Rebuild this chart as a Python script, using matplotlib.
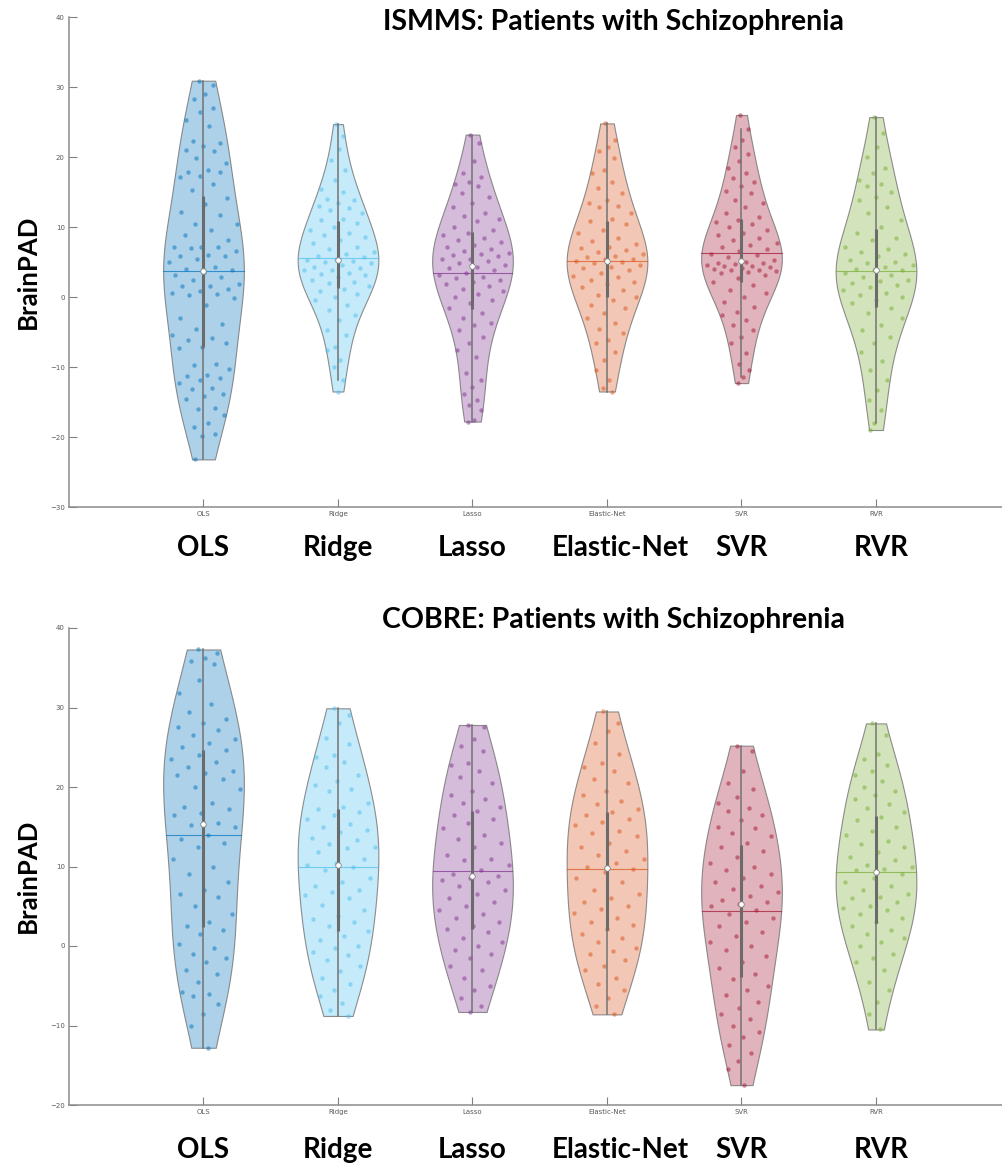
import numpy as np
import matplotlib
matplotlib.use("Agg")
import matplotlib.pyplot as plt
from matplotlib import cbook, mlab
from matplotlib.colors import to_rgba

models = ['OLS', 'Ridge', 'Lasso', 'Elastic-Net', 'SVR', 'RVR']
colors = ['#0072BD', '#4DBEEE', '#7E2F8E', '#D95319', '#A2142F', '#77AC30']

# ISMMS: BrainPAD per model
ismms_ols = [30.9, 30.3, 29.0, 28.3, 27.0, 26.5, 25.3, 24.4, 22.3, 22.0, 21.6, 21.0, 20.8, 19.9,
             19.1, 18.2, 17.9, 17.8, 17.3, 17.2, 16.1, 15.3, 14.2, 13.3, 12.1, 11.7, 10.4, 10.4,
             9.6, 8.9, 8.2, 7.2, 7.2, 7.1, 7.0, 6.6, 6.0, 5.9, 5.8, 5.5, 5.0, 4.3, 4.0, 3.8, 3.6,
             3.1, 2.9, 2.5, 1.9, 1.6, 1.6, 1.2, 0.8, 0.6, 0.4, 0.3, -0.1, -1.1, -3.0, -3.8, -4.5,
             -5.4, -5.9, -6.2, -6.6, -7.1, -7.3, -9.5, -9.7, -10.3, -11.1, -11.3, -11.6, -11.9,
             -12.3, -13.0, -13.2, -13.8, -14.2, -14.5, -15.9, -16.0, -16.9, -18.0, -18.6, -19.5,
             -19.9, -23.2]
ismms_ridge = [24.7, 23.0, 21.2, 19.6, 18.2, 16.7, 15.5, 15.0, 14.0, 13.9, 13.4, 13.0, 12.7, 12.4,
               12.0, 11.2, 11.0, 10.6, 10.0, 9.6, 9.1, 8.9, 8.6, 8.1, 7.7, 7.1, 6.8, 6.5, 6.2, 5.9,
               5.7, 5.5, 5.3, 5.2, 5.0, 4.8, 4.6, 4.3, 4.1, 3.9, 3.8, 3.5, 3.3, 3.1, 2.9, 2.5, 2.2,
               2.0, 1.6, 1.2, 0.9, 0.5, 0.0, -0.4, -1.1, -1.9, -2.6, -3.3, -4.7, -5.4, -7.1, -7.6,
               -9.0, -10.0, -11.9, -13.5]
ismms_lasso = [23.2, 22.0, 19.5, 17.7, 17.2, 16.5, 16.1, 15.8, 14.9, 14.3, 13.4, 12.9, 12.0, 11.6,
               11.2, 10.8, 10.0, 9.6, 9.1, 8.9, 8.5, 8.1, 7.8, 7.4, 7.1, 6.8, 6.6, 6.3, 6.2, 6.0,
               5.8, 5.5, 5.4, 5.2, 4.9, 4.6, 4.3, 4.1, 3.9, 3.5, 3.1, 2.9, 2.7, 2.4, 2.2, 1.9, 1.6,
               1.2, 0.9, 0.5, 0.0, -0.4, -0.9, -1.6, -2.3, -3.0, -3.7, -4.0, -4.7, -5.7, -6.6,
               -7.6, -8.5, -10.9, -11.9, -12.8, -13.8, -14.7, -15.4, -16.1, -17.6, -17.8]
ismms_enet = [24.8, 22.5, 21.5, 20.8, 19.8, 18.1, 17.7, 16.5, 15.6, 14.8, 13.9, 13.4, 13.0, 12.8,
              12.0, 11.2, 10.8, 10.4, 9.6, 9.1, 8.5, 8.0, 7.6, 7.2, 7.0, 6.7, 6.4, 6.2, 5.9, 5.7,
              5.5, 5.4, 5.2, 5.0, 4.8, 4.6, 4.3, 4.1, 3.8, 3.4, 3.0, 2.9, 2.5, 2.2, 1.8, 1.4, 1.0,
              0.3, 0.0, -0.4, -1.1, -1.6, -2.3, -3.0, -3.7, -4.5, -5.2, -6.1, -6.6, -7.8, -9.0,
              -10.4, -11.9, -13.0, -13.5]
ismms_svr = [26.0, 24.0, 22.5, 21.5, 20.5, 19.5, 18.5, 17.7, 17.0, 16.5, 15.8, 15.2, 14.8, 13.9,
             13.4, 12.9, 12.0, 11.5, 11.0, 10.7, 10.4, 10.0, 9.6, 9.2, 8.9, 8.5, 8.1, 7.7, 7.5,
             7.2, 6.9, 6.6, 6.2, 6.0, 5.7, 5.3, 5.0, 4.9, 4.8, 4.7, 4.6, 4.5, 4.4, 4.3, 4.2, 4.0,
             3.9, 3.8, 3.7, 3.6, 3.4, 3.1, 2.7, 2.2, 1.7, 1.0, 0.6, 0.0, -0.7, -1.4, -2.1, -2.6,
             -3.3, -4.0, -4.7, -5.7, -6.6, -8.0, -9.5, -10.4, -11.4, -12.3]
ismms_rvr = [25.7, 23.5, 21.5, 20.0, 18.5, 17.7, 16.7, 16.2, 15.8, 15.0, 14.3, 13.9, 12.9, 12.0,
             11.0, 10.0, 9.1, 8.5, 8.1, 7.2, 6.8, 6.5, 6.2, 5.8, 5.3, 5.0, 4.8, 4.6, 4.3, 4.0,
             3.8, 3.8, 3.4, 3.1, 2.9, 2.5, 2.3, 2.0, 1.7, 1.4, 1.0, 0.6, 0.3, 0.0, -0.4, -0.9,
             -1.6, -2.3, -3.0, -4.0, -4.7, -5.7, -6.6, -7.8, -9.2, -10.4, -11.9, -13.3, -14.7,
             -16.1, -18.0, -19.0]

# COBRE: BrainPAD per model
cobre_ols = [37.3, 36.8, 36.2, 35.8, 35.5, 33.5, 31.8, 30.5, 29.4, 28.5, 28.0, 27.5, 27.2, 26.5,
             26.0, 25.5, 25.0, 24.6, 24.0, 23.5, 23.2, 22.5, 22.0, 21.8, 21.5, 21.0, 20.0, 19.8,
             18.0, 17.5, 17.2, 16.7, 16.5, 15.5, 15.2, 15.0, 14.0, 13.5, 13.0, 12.4, 11.0, 10.0,
             9.0, 8.0, 7.0, 6.5, 6.2, 5.0, 4.0, 3.0, 2.5, 2.0, 1.5, 0.3, -0.3, -1.0, -1.5, -2.0,
             -3.0, -3.5, -4.5, -5.8, -6.0, -6.3, -7.3, -8.5, -10.0, -12.8]
cobre_ridge = [29.9, 29.0, 28.0, 26.2, 25.4, 24.0, 23.8, 23.1, 22.5, 21.5, 20.8, 20.2, 19.8, 19.5,
               18.0, 17.5, 17.2, 16.8, 16.5, 16.0, 15.3, 15.0, 14.6, 14.3, 13.6, 13.3, 12.8, 12.5,
               12.3, 11.8, 11.0, 10.5, 10.2, 9.9, 9.6, 8.6, 8.0, 7.6, 7.1, 6.8, 6.4, 6.0, 5.2, 4.5,
               3.8, 3.4, 3.0, 2.5, 1.9, 1.3, 0.8, 0.0, -0.3, -0.8, -1.1, -1.8, -2.5, -3.2, -4.0,
               -4.8, -5.5, -6.3, -7.2, -8.0, -8.8]
cobre_lasso = [27.8, 27.5, 26.0, 25.2, 24.5, 23.0, 22.8, 22.0, 21.2, 20.5, 19.5, 19.0, 18.5, 18.0,
               17.5, 17.0, 16.5, 16.0, 15.5, 14.8, 14.0, 13.5, 13.0, 12.5, 11.5, 11.0, 10.8, 10.2,
               9.5, 9.0, 8.8, 8.5, 8.3, 8.0, 7.5, 7.0, 6.5, 6.0, 5.5, 5.0, 4.5, 4.0, 3.5, 3.0, 2.5,
               2.2, 1.8, 1.0, 0.5, 0.0, -0.5, -1.0, -1.5, -2.5, -3.0, -4.0, -5.0, -5.5, -6.5,
               -7.5, -8.3]
cobre_enet = [29.5, 28.0, 27.0, 25.5, 24.2, 23.0, 22.5, 22.0, 21.0, 20.5, 19.5, 19.0, 18.2, 17.8,
              17.2, 16.8, 16.5, 16.0, 15.6, 15.2, 14.5, 14.2, 13.8, 13.0, 12.5, 12.0, 11.5, 11.0,
              10.5, 10.0, 9.7, 9.3, 8.5, 8.0, 7.0, 6.5, 6.0, 5.5, 5.0, 4.6, 4.2, 3.5, 3.0, 2.6,
              2.2, 1.5, 1.0, 0.5, -0.2, -0.6, -1.0, -1.8, -2.5, -3.0, -4.0, -4.8, -5.5, -6.5,
              -7.5, -8.6]
cobre_svr = [25.2, 24.5, 22.0, 20.5, 19.8, 18.8, 18.0, 17.3, 17.0, 16.5, 15.8, 15.0, 14.8, 14.2,
             13.8, 13.0, 12.5, 12.0, 11.2, 10.5, 10.0, 9.5, 9.0, 8.5, 8.0, 7.5, 7.2, 6.8, 6.3,
             5.8, 5.5, 5.3, 5.0, 4.5, 4.0, 3.5, 3.0, 2.5, 1.8, 1.2, 0.5, 0.0, -0.5, -1.2, -2.0,
             -2.8, -3.5, -4.2, -5.0, -5.5, -6.2, -7.0, -7.8, -8.5, -9.2, -10.0, -10.8, -11.5,
             -12.5, -13.5, -14.5, -15.5, -17.5]
cobre_rvr = [28.0, 26.5, 24.2, 23.5, 22.8, 22.0, 21.5, 20.8, 20.0, 19.5, 19.0, 18.5, 17.8, 17.3,
             16.8, 16.2, 15.8, 15.0, 14.5, 14.0, 13.2, 12.8, 12.5, 11.8, 11.2, 10.8, 10.2, 9.9,
             9.7, 9.5, 9.0, 8.5, 8.0, 7.5, 7.0, 6.5, 6.2, 6.0, 5.5, 5.0, 4.8, 4.5, 4.0, 3.5, 3.0,
             2.5, 2.0, 1.5, 1.0, 0.5, 0.0, -1.0, -1.5, -2.0, -3.0, -4.5, -5.5, -7.0, -8.5, -10.5]

ismms = [ismms_ols, ismms_ridge, ismms_lasso, ismms_enet, ismms_svr, ismms_rvr]
cobre = [cobre_ols, cobre_ridge, cobre_lasso, cobre_enet, cobre_svr, cobre_rvr]

WIDTH = 0.6
LABEL_FONT = ['Lato', 'DejaVu Sans']
LABEL_SHIFT = [0, 0, 0, 0.1, 0, 0.04]   # small nudges of the big category labels


def kde(X, coords):
    k = mlab.GaussianKDE(X, lambda g: g.scotts_factor() * 1.25)
    return k.evaluate(coords)


def draw_panel(ax, groups, ylim, title, title_y, label_y):
    pos = np.arange(1, len(groups) + 1)
    stats = cbook.violin_stats(groups, kde, points=200)
    parts = ax.violin(stats, positions=pos, widths=WIDTH, showextrema=False)
    for body, c in zip(parts['bodies'], colors):
        body.set_alpha(None)
        body.set_facecolor(to_rgba(c, 0.32))
        body.set_edgecolor((0.45, 0.45, 0.45, 0.8))
        body.set_linewidth(0.8)

    for p, d, st, c in zip(pos, groups, stats, colors):
        d = np.asarray(d, dtype=float)
        vmax = st['vals'].max()
        half = 0.5 * WIDTH * np.interp(d, st['coords'], st['vals']) / vmax
        u = (np.arange(len(d)) * 0.6180339887 + 0.31) % 1.0
        ax.scatter(p + (2 * u - 1) * half * 0.92, d, s=10, color=c, alpha=0.5,
                   linewidths=0, zorder=3)
        m = d.mean()
        hw = 0.5 * WIDTH * np.interp(m, st['coords'], st['vals']) / vmax
        ax.plot([p - hw, p + hw], [m, m], color=c, lw=0.8, alpha=0.7, zorder=4)
        q1, med, q3 = np.percentile(d, [25, 50, 75])
        iqr = q3 - q1
        hi = d[d <= q3 + 1.5 * iqr].max()
        lo = d[d >= q1 - 1.5 * iqr].min()
        ax.plot([p, p], [lo, hi], color='0.45', lw=1.1, zorder=5)
        ax.plot([p, p], [q1, q3], color='0.42', lw=2.2, solid_capstyle='butt', zorder=6)
        ax.plot(p, med, 'o', ms=4, mfc='white', mec='0.5', mew=0.6, zorder=7)

    ax.set_xlim(0, 7)
    ax.set_ylim(*ylim)
    ax.set_yticks(np.arange(ylim[0], ylim[1] + 1, 10))
    ax.set_xticks(pos)
    ax.set_xticklabels(models, fontsize=3, color='0.6')
    ax.tick_params(direction='in', length=6, width=0.8, color='0.5',
                   labelsize=5, labelcolor='0.35', pad=3)
    for s in ['top', 'right']:
        ax.spines[s].set_visible(False)
    for s in ['left', 'bottom']:
        ax.spines[s].set_color('0.55')
        ax.spines[s].set_linewidth(1.1)

    ax.set_ylabel('BrainPAD', fontsize=18.5, fontweight='bold', family=LABEL_FONT)
    ax.yaxis.set_label_coords(-0.031, 0.48)
    for p, name, dx in zip(pos, models, LABEL_SHIFT):
        ax.text(p + dx, label_y, name, transform=ax.get_xaxis_transform(), ha='center',
                va='center', fontsize=20, fontweight='bold', family=LABEL_FONT)
    ax.text(4.05, title_y, title, transform=ax.get_xaxis_transform(), ha='center',
            va='center', fontsize=20.5, fontweight='bold', family=LABEL_FONT)


fig = plt.figure(figsize=(10.03, 11.72), dpi=100)
W, H = 1003.0, 1172.0
ax_top = fig.add_axes([69 / W, 1 - 507 / H, 941.5 / W, 490 / H])
ax_bot = fig.add_axes([69 / W, 1 - 1105 / H, 941.5 / W, 477 / H])

draw_panel(ax_top, ismms, (-30, 40), 'ISMMS: Patients with Schizophrenia',
           (507 - 22) / 490, (507 - 548) / 490)
draw_panel(ax_bot, cobre, (-20, 40), 'COBRE: Patients with Schizophrenia',
           (1105 - 620) / 477, (1105 - 1150) / 477)

fig.savefig('out.png', dpi=100)
